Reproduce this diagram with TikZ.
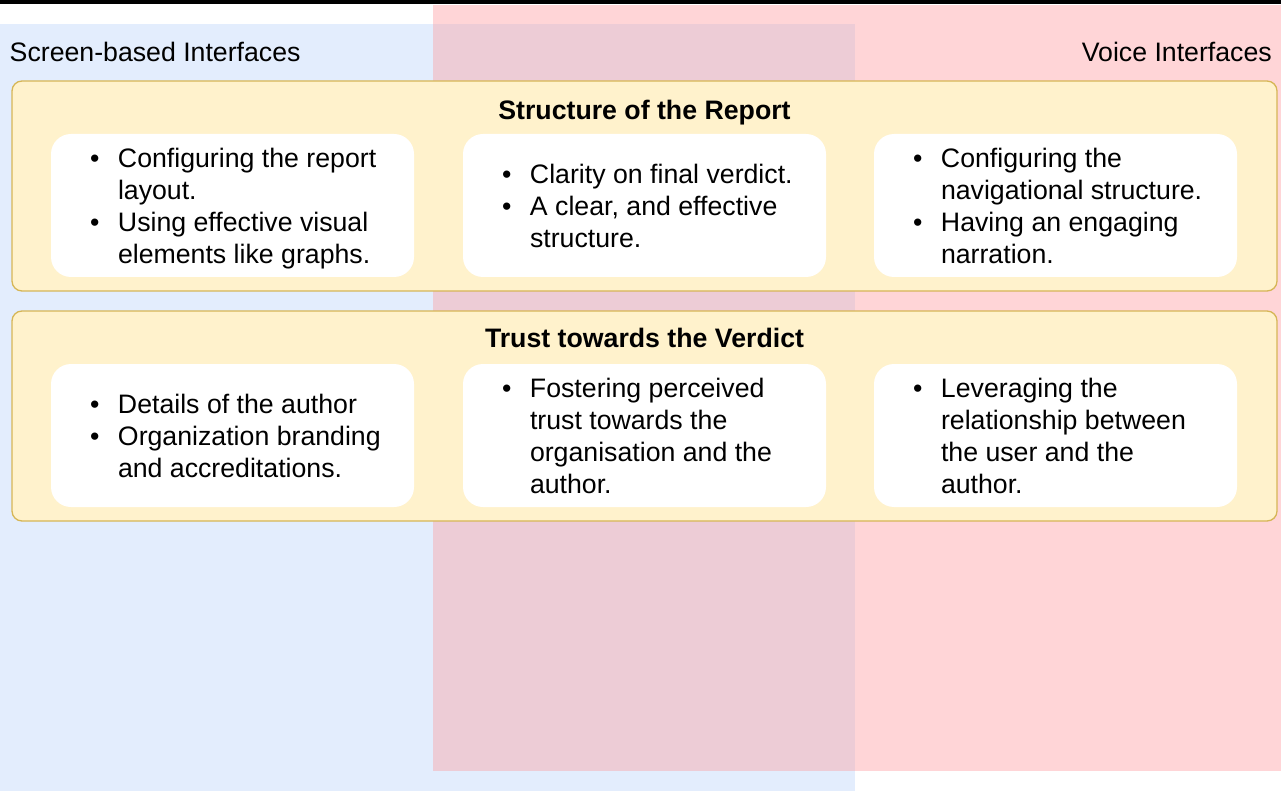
\documentclass[tikz,border=0pt]{standalone}
\usepackage{fontspec}
\setmainfont{Liberation Sans}
\definecolor{bluebg}{HTML}{E3EDFD}
\definecolor{pinkbg}{HTML}{FFD5D7}
\definecolor{overlapbg}{HTML}{EDCCD6}
\definecolor{yfill}{HTML}{FFF2CC}
\definecolor{ystroke}{HTML}{D6B656}
\newcommand{\bl}{\makebox[28pt][l]{\textbullet}}
\begin{document}
\begin{tikzpicture}[x=1pt,y=-1pt,
  container/.style={draw=ystroke, fill=yfill, rounded corners=10pt, line width=1.3pt,
    minimum width=1265pt, minimum height=210pt, inner sep=0pt},
  card/.style={fill=white, rounded corners=20pt, minimum width=363pt, minimum height=143pt, inner sep=0pt},
  lanelabel/.style={inner sep=0pt, font=\fontsize{26.7}{32}\selectfont},
  title/.style={inner sep=0pt, font=\fontsize{26.7}{32}\selectfont\bfseries},
  bullets/.style={inner sep=0pt, anchor=west, align=left, font=\fontsize{26.7}{32}\selectfont}
]
\useasboundingbox (0,0) rectangle (1281,791);
\fill[white] (0,0) rectangle (1281,791);
\fill[black] (0,0) rectangle (1281,4.3);
\fill[bluebg] (0,24) rectangle (855,791);
\fill[pinkbg] (433,5) rectangle (1281,771);
\fill[overlapbg] (433,24) rectangle (855,771);

\node[lanelabel, anchor=base west] (screen) at (9.5,61.5) {Screen-based Interfaces};
\node[lanelabel, anchor=base east] (voice) at (1272,61.5) {Voice Interfaces};

% container 1
\node[container] (c1) at (644.5,186) {};
\node[title, anchor=base] (t1) at (644.5,119.5) {Structure of the Report};
\node[card] (a1) at (232.5,205.5) {};
\node[card] (a2) at (644.5,205.5) {};
\node[card] (a3) at (1055.5,205.5) {};

\node[bullets] (ta1) at ([xshift=39pt,yshift=-3.5pt]a1.west) {\begin{tabular}{@{}l@{}l@{}}
\bl & Configuring the report\\
 & layout.\\
\bl & Using effective visual\\
 & elements like graphs.
\end{tabular}};
\node[bullets] (ta2) at ([xshift=39pt,yshift=-3.5pt]a2.west) {\begin{tabular}{@{}l@{}l@{}}
\bl & Clarity on final verdict.\\
\bl & A clear, and effective\\
 & structure.
\end{tabular}};
\node[bullets] (ta3) at ([xshift=39pt,yshift=-3.5pt]a3.west) {\begin{tabular}{@{}l@{}l@{}}
\bl & Configuring the\\
 & navigational structure.\\
\bl & Having an engaging\\
 & narration.
\end{tabular}};

% container 2
\node[container] (c2) at (644.5,416) {};
\node[title, anchor=base] (t2) at (644.5,347.5) {Trust towards the Verdict};
\node[card] (b1) at (232.5,435.5) {};
\node[card] (b2) at (644.5,435.5) {};
\node[card] (b3) at (1055.5,435.5) {};

\node[bullets] (tb1) at ([xshift=39pt,yshift=-3.5pt]b1.west) {\begin{tabular}{@{}l@{}l@{}}
\bl & Details of the author\\
\bl & Organization branding\\
 & and accreditations.
\end{tabular}};
\node[bullets] (tb2) at ([xshift=39pt,yshift=-3.5pt]b2.west) {\begin{tabular}{@{}l@{}l@{}}
\bl & Fostering perceived\\
 & trust towards the\\
 & organisation and the\\
 & author.
\end{tabular}};
\node[bullets] (tb3) at ([xshift=39pt,yshift=-3.5pt]b3.west) {\begin{tabular}{@{}l@{}l@{}}
\bl & Leveraging the\\
 & relationship between\\
 & the user and the\\
 & author.
\end{tabular}};
\end{tikzpicture}
\end{document}
